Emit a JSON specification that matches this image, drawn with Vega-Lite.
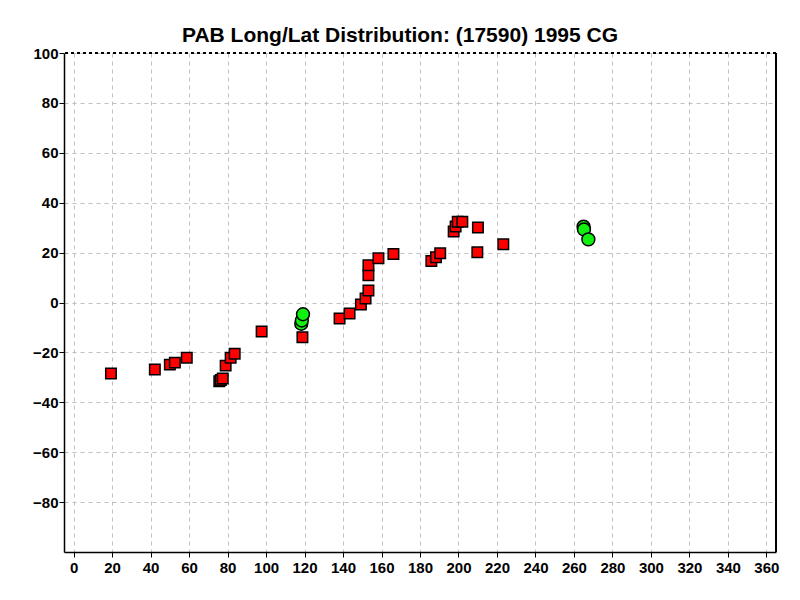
{
  "$schema": "https://vega.github.io/schema/vega-lite/v6.json",
  "width": 712,
  "height": 499,
  "autosize": "none",
  "padding": {"left": 64, "top": 53, "right": 24, "bottom": 48},
  "background": "white",
  "title": {
    "text": "PAB Long/Lat Distribution: (17590) 1995 CG",
    "font": "Liberation Sans",
    "fontSize": 21,
    "fontWeight": "bold",
    "color": "black",
    "anchor": "middle",
    "baseline": "alphabetic",
    "offset": 11,
    "dx": -20,
    "dy": 28
  },
  "config": {
    "view": {"stroke": null},
    "axis": {
      "title": null,
      "labelFont": "Liberation Sans",
      "labelFontSize": 15,
      "labelFontWeight": "bold",
      "labelColor": "black",
      "labelOverlap": false,
      "labelBound": false,
      "labelFlush": false,
      "domainColor": "black",
      "domainWidth": 1.5,
      "tickColor": "black",
      "tickSize": 5,
      "gridColor": "#c0c0c0",
      "gridDash": [4, 4],
      "gridWidth": 1
    }
  },
  "data": {
    "values": [
      {"lon": 19.4, "lat": -28.5, "kind": "sq"},
      {"lon": 42.2, "lat": -26.9, "kind": "sq"},
      {"lon": 50.0, "lat": -24.9, "kind": "sq"},
      {"lon": 52.6, "lat": -24.1, "kind": "sq"},
      {"lon": 58.8, "lat": -22.1, "kind": "sq"},
      {"lon": 75.7, "lat": -31.6, "kind": "sq"},
      {"lon": 76.5, "lat": -31.1, "kind": "sq"},
      {"lon": 77.5, "lat": -30.5, "kind": "sq"},
      {"lon": 79.0, "lat": -25.3, "kind": "sq"},
      {"lon": 81.6, "lat": -22.1, "kind": "sq"},
      {"lon": 83.7, "lat": -20.5, "kind": "sq"},
      {"lon": 97.7, "lat": -11.6, "kind": "sq"},
      {"lon": 118.9, "lat": -13.9, "kind": "sq"},
      {"lon": 138.2, "lat": -6.4, "kind": "sq"},
      {"lon": 143.4, "lat": -4.4, "kind": "sq"},
      {"lon": 149.3, "lat": -0.8, "kind": "sq"},
      {"lon": 151.7, "lat": 1.6, "kind": "sq"},
      {"lon": 153.2, "lat": 4.8, "kind": "sq"},
      {"lon": 153.2, "lat": 10.9, "kind": "sq"},
      {"lon": 153.2, "lat": 14.9, "kind": "sq"},
      {"lon": 158.4, "lat": 17.7, "kind": "sq"},
      {"lon": 166.2, "lat": 19.4, "kind": "sq"},
      {"lon": 185.9, "lat": 16.6, "kind": "sq"},
      {"lon": 188.3, "lat": 18.1, "kind": "sq"},
      {"lon": 190.5, "lat": 19.7, "kind": "sq"},
      {"lon": 197.5, "lat": 28.5, "kind": "sq"},
      {"lon": 198.5, "lat": 30.5, "kind": "sq"},
      {"lon": 199.6, "lat": 32.4, "kind": "sq"},
      {"lon": 202.0, "lat": 32.4, "kind": "sq"},
      {"lon": 210.1, "lat": 30.1, "kind": "sq"},
      {"lon": 209.8, "lat": 20.1, "kind": "sq"},
      {"lon": 223.3, "lat": 23.3, "kind": "sq"},
      {"lon": 118.3, "lat": -8.5, "kind": "ci"},
      {"lon": 118.6, "lat": -7.2, "kind": "ci"},
      {"lon": 119.2, "lat": -4.7, "kind": "ci"},
      {"lon": 265.0, "lat": 30.4, "kind": "ci"},
      {"lon": 265.2, "lat": 29.3, "kind": "ci"},
      {"lon": 267.5, "lat": 25.3, "kind": "ci"}
    ]
  },
  "layer": [
    {
      "mark": {"type": "point", "filled": true, "stroke": "black", "strokeWidth": 1.5, "opacity": 1},
      "encoding": {
        "x": {
          "field": "lon", "type": "quantitative",
          "scale": {"domain": [-5, 365], "nice": false, "zero": false},
          "axis": {
            "values": [0,20,40,60,80,100,120,140,160,180,200,220,240,260,280,300,320,340,360],
            "labelOverlap": false,
            "labelPadding": 3
          }
        },
        "y": {
          "field": "lat", "type": "quantitative",
          "scale": {"domain": [-100, 100], "nice": false},
          "axis": {
            "values": [-80,-60,-40,-20,0,20,40,60,80,100],
            "labelOverlap": false,
            "labelPadding": 1,
            "labelBaseline": "middle"
          }
        },
        "shape": {
          "field": "kind", "type": "nominal",
          "scale": {"domain": ["sq", "ci"], "range": ["square", "circle"]},
          "legend": null
        },
        "color": {
          "field": "kind", "type": "nominal",
          "scale": {"domain": ["sq", "ci"], "range": ["#ff0000", "#11f011"]},
          "legend": null
        },
        "size": {
          "field": "kind", "type": "nominal",
          "scale": {"domain": ["sq", "ci"], "range": [110, 165]},
          "legend": null
        },
        "order": {"field": "kind", "sort": "descending"}
      }
    },
    {
      "mark": {"type": "rule", "color": "black", "strokeDash": [3, 3], "strokeWidth": 1},
      "encoding": {
        "y": {
          "datum": 100, "type": "quantitative",
          "axis": {
            "values": [-80,-60,-40,-20,0,20,40,60,80,100],
            "labelOverlap": false,
            "labelPadding": 1,
            "labelBaseline": "middle"
          }
        }
      }
    },
    {
      "mark": {"type": "rule", "color": "black", "strokeWidth": 1.5},
      "encoding": {
        "x": {
          "datum": 365, "type": "quantitative",
          "axis": {
            "values": [0,20,40,60,80,100,120,140,160,180,200,220,240,260,280,300,320,340,360],
            "labelOverlap": false,
            "labelPadding": 3
          }
        }
      }
    }
  ]
}
